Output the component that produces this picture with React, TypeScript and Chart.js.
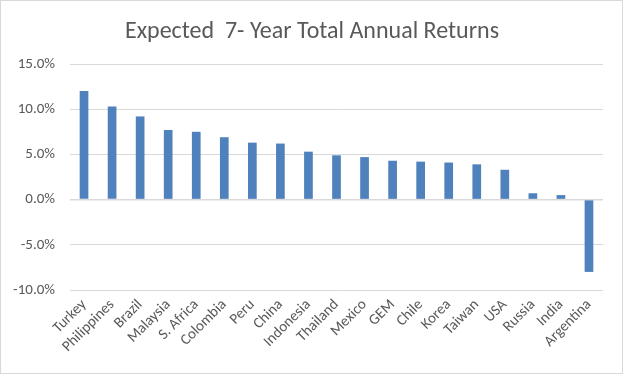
import React, { useEffect, useRef } from "react";
import { Chart, registerables } from "chart.js";

Chart.register(...registerables);

const titleText = "Expected  7- Year Total Annual Returns";
const categories = [
  "Turkey", "Philippines", "Brazil", "Malaysia", "S. Africa", "Colombia", "Peru", "China",
  "Indonesia", "Thailand", "Mexico", "GEM", "Chile", "Korea", "Taiwan", "USA", "Russia", "India", "Argentina",
];
const returnsPct = [
  12.0, 10.3, 9.2, 7.7, 7.5, 6.9, 6.3, 6.2, 5.3, 4.9, 4.7, 4.3, 4.2, 4.1, 3.9, 3.3, 0.7, 0.5, -8.0,
];
const yMin = -10;
const yMax = 15;
const yStep = 5;

const FONT = "Carlito, Lato, 'Open Sans', sans-serif";
const TEXT = "#595959";
const GRID = "#d9d9d9";

export default function App() {
  const ref = useRef<HTMLCanvasElement | null>(null);
  useEffect(() => {
    document.body.style.margin = "0";
    const canvas = ref.current!;
    const framePlugin = {
      id: "frame",
      afterDraw(chart: any) {
        const ctx = chart.ctx;
        ctx.save();
        ctx.strokeStyle = GRID;
        ctx.lineWidth = 1;
        ctx.strokeRect(0.5, 0.5, chart.width - 1, chart.height - 1);
        ctx.fillStyle = TEXT;
        ctx.font = `24px ${FONT}`;
        ctx.textAlign = "center";
        ctx.textBaseline = "alphabetic";
        ctx.fillText(titleText, 312, 37.5);
        ctx.restore();
      },
    };
    const chart = new Chart(canvas, {
      type: "bar",
      data: {
        labels: categories,
        datasets: [
          {
            data: returnsPct,
            backgroundColor: "#4f81bd",
            barPercentage: 0.31,
            categoryPercentage: 1,
          },
        ],
      },
      options: {
        animation: false,
        responsive: false,
        maintainAspectRatio: false,
        layout: { padding: { top: 64, right: 20, bottom: 0, left: 0 } },
        plugins: { legend: { display: false }, tooltip: { enabled: false }, title: { display: false } },
        scales: {
          x: {
            grid: { display: false, drawTicks: false },
            border: { display: false },
            ticks: {
              autoSkip: false,
              minRotation: 45,
              maxRotation: 45,
              padding: 6,
              labelOffset: 0,
              color: TEXT,
              font: { family: FONT, size: 15 },
            },
            afterFit: (s: any) => {
              s.height = 84;
            },
          },
          y: {
            min: yMin,
            max: yMax,
            grid: {
              drawTicks: false,
              color: GRID,
              lineWidth: (c: any) => (c.tick && c.tick.value === 0 ? 1.5 : 1),
            },
            border: { display: false },
            ticks: {
              stepSize: yStep,
              padding: 15,
              color: TEXT,
              font: { family: FONT, size: 15 },
              callback: (v: any) => `${Number(v).toFixed(1)}%`,
            },
            afterFit: (s: any) => {
              s.width = 70;
            },
          },
        },
      },
      plugins: [framePlugin],
    });
    return () => chart.destroy();
  }, []);
  return <canvas ref={ref} width={623} height={374} style={{ display: "block" }} />;
}
